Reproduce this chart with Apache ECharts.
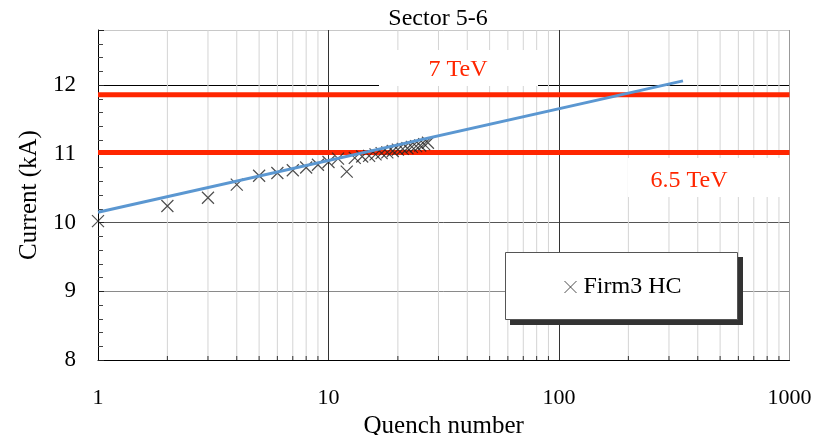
<!DOCTYPE html>
<html>
<head>
<meta charset="utf-8">
<script src="https://cdn.jsdelivr.net/npm/echarts@6/dist/echarts.min.js"></script>
<style>
  html, body { margin: 0; padding: 0; background: #fff; }
  #chart { width: 829px; height: 435px; }
</style>
</head>
<body>
<div id="chart"></div>
<script>
// Quench training of sector 5-6 (Firm3 HC magnets)
const quenchNumber = [1, 2, 3, 4, 5, 6, 7, 8, 9, 10, 11, 12, 13, 14, 15, 16, 17, 18, 19, 20, 21, 22, 23, 24, 25, 26, 27];
const quenchCurrent = [10.02, 10.24, 10.36, 10.55, 10.68, 10.72, 10.76, 10.80, 10.84, 10.88, 10.93, 10.74,
  10.94, 10.96, 10.97, 10.99, 11.01, 11.02, 11.04, 11.06, 11.07, 11.08, 11.10, 11.11, 11.12, 11.14, 11.16];

// Logarithmic trend line end points
const trendX = [1, 345];
const trendY = [10.15, 12.06];

// Nominal currents for the two beam energies (kA)
const energyLabels = ['7 TeV', '6.5 TeV'];
const energyCurrent = [11.86, 11.02];

// Axis ranges
const xRange = [1, 1000];
const yRange = [8, 12.8];
const yStep = 1;
const minorX = [2, 3, 4, 5, 6, 7, 8, 9, 20, 30, 40, 50, 60, 70, 80, 90, 200, 300, 400, 500, 600, 700, 800, 900];

const FONT = '"Liberation Serif", "Times New Roman", serif';
const RED = '#ff2600';

const chart = echarts.init(document.getElementById('chart'), null, { renderer: 'canvas' });

const crossPath = 'path://M0,0L10,10M10,0L0,10';

const option = {
  animation: false,
  backgroundColor: '#fff',
  title: {
    text: 'Sector 5-6',
    left: 433, top: 2, textAlign: 'center',
    textStyle: { fontFamily: FONT, fontSize: 24, fontWeight: 'normal', color: '#000' }
  },
  grid: { left: 98, right: 39.5, top: 30, bottom: 75, containLabel: false, outerBoundsMode: 'none' },
  xAxis: {
    type: 'log', logBase: 10, min: xRange[0], max: xRange[1],
    name: 'Quench number', nameLocation: 'middle', nameGap: 41,
    nameTextStyle: { fontFamily: FONT, fontSize: 25, color: '#000' },
    axisLine: { show: true, lineStyle: { color: '#000', width: 1 } },
    axisTick: { show: false },
    axisLabel: { fontFamily: FONT, fontSize: 22, color: '#000', margin: 27, formatter: v => String(v) },
    splitLine: { show: true, lineStyle: { color: ['#000', '#333', '#333', '#999'], width: 1 } }
  },
  yAxis: {
    type: 'value', min: yRange[0], max: yRange[1], interval: yStep,
    name: 'Current (kA)', nameLocation: 'middle', nameGap: 51,
    nameTextStyle: { fontFamily: FONT, fontSize: 25, color: '#000' },
    axisLine: { show: true, lineStyle: { color: '#000', width: 1 } },
    axisTick: { show: true, inside: true, length: 6, lineStyle: { color: '#222' } },
    minorTick: { show: true, splitNumber: 5, length: 5, lineStyle: { color: '#444' } },
    axisLabel: { fontFamily: FONT, fontSize: 23, color: '#000', margin: 22, showMaxLabel: false },
    splitLine: { show: true, lineStyle: { color: ['#000', '#8a8a8a', '#555', '#8a8a8a', '#000', '#c8c8c8'], width: 1 } }
  },
  legend: {
    data: [{ name: 'Firm3 HC', icon: crossPath }],
    left: 564, top: 275, orient: 'horizontal',
    padding: 0,
    itemWidth: 16, itemHeight: 12, itemGap: 4,
    backgroundColor: 'transparent', borderWidth: 0,
    textStyle: { fontFamily: FONT, fontSize: 24, color: '#000' },
    itemStyle: { color: 'transparent', borderColor: '#222', borderWidth: 1 },
    z: 20
  },
  graphic: [
    // white boxes behind the energy labels
    { type: 'rect', z: 3, silent: true, shape: { x: 379, y: 50, width: 159, height: 36 }, style: { fill: '#fff' } },
    { type: 'text', z: 4, silent: true, x: 458, y: 70,
      style: { text: energyLabels[0], fill: RED, font: '24px ' + FONT, align: 'center', verticalAlign: 'middle' } },
    { type: 'rect', z: 3, silent: true, shape: { x: 628, y: 158, width: 161, height: 39 }, style: { fill: '#fff' } },
    { type: 'text', z: 4, silent: true, x: 689, y: 181,
      style: { text: energyLabels[1], fill: RED, font: '24px ' + FONT, align: 'center', verticalAlign: 'middle' } },
    // legend frame with a hard drop shadow
    { type: 'rect', z: 8, silent: true, shape: { x: 510, y: 257, width: 233, height: 68 }, style: { fill: '#333' } },
    { type: 'rect', z: 9, silent: true, shape: { x: 505.5, y: 252.5, width: 232, height: 67 },
      style: { fill: '#fff', stroke: '#555', lineWidth: 1 } }
  ],
  series: [
    {
      // light minor grid for the log axis plus short ticks on the bottom axis
      type: 'custom', z: 1, silent: true,
      data: minorX.map(v => [v]),
      renderItem: function (params, api) {
        const x = api.value(0);
        const top = api.coord([x, yRange[1]]);
        const bottom = api.coord([x, yRange[0]]);
        return {
          type: 'group',
          children: [
            { type: 'line', shape: { x1: top[0], y1: top[1], x2: bottom[0], y2: bottom[1] },
              style: { stroke: '#d4d4d4', lineWidth: 1 } },
            { type: 'line', shape: { x1: bottom[0], y1: bottom[1], x2: bottom[0], y2: bottom[1] - 4 },
              style: { stroke: '#333', lineWidth: 1 } }
          ]
        };
      }
    },
    {
      name: energyLabels[0], type: 'line', z: 5, silent: true,
      data: [[xRange[0], energyCurrent[0]], [xRange[1], energyCurrent[0]]],
      symbol: 'none', lineStyle: { color: RED, width: 5 }
    },
    {
      name: energyLabels[1], type: 'line', z: 5, silent: true,
      data: [[xRange[0], energyCurrent[1]], [xRange[1], energyCurrent[1]]],
      symbol: 'none', lineStyle: { color: RED, width: 5 }
    },
    {
      name: 'Firm3 HC', type: 'scatter', z: 6,
      data: quenchNumber.map((n, i) => [n, quenchCurrent[i]]),
      symbol: crossPath, symbolSize: 12,
      itemStyle: { color: 'transparent', borderColor: '#222', borderWidth: 1.2 }
    },
    {
      name: 'trend', type: 'line', z: 7, silent: true,
      data: trendX.map((x, i) => [x, trendY[i]]),
      symbol: 'none', lineStyle: { color: '#5b97d1', width: 3 }
    }
  ]
};

chart.setOption(option);
</script>
</body>
</html>
